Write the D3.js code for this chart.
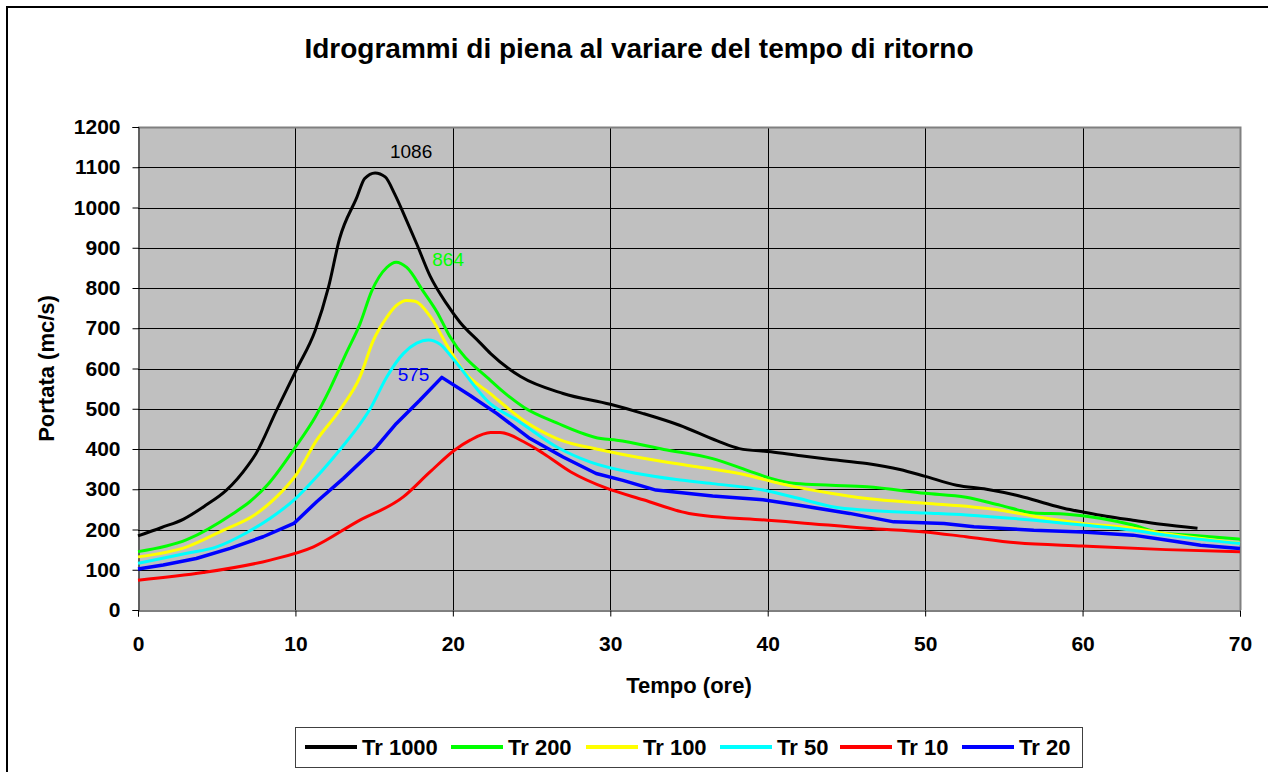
<!DOCTYPE html>
<html>
  <head>
    <title>Idrogrammi di piena al variare del tempo di ritorno</title>
    <meta charset="utf-8">
    <script src="https://cdn.jsdelivr.net/npm/d3@7"></script>
    <style>
      body { margin: 0; background: #fff; }
      text { font-family: "Liberation Sans", Arial, sans-serif; }
    </style>
  </head>
<body>
  <script type="text/javascript">
    /*
      Data (tempo in ore, portata in mc/s)
    */
    var tr1000T = [0,1.5,2.9,4.3,5.6,7.0,7.5,8.8,10.1,11.25,12.1,12.8,13.9,14.4,15.06,15.7,16.3,17.07,17.7,18.55,19.6,20.45,21.7,22.4,24.3,27,30,32.1,34.4,36.8,38.2,40.2,42.1,44,46.3,48.4,50,52,53.9,55.8,57.3,58.8,60.1,61.5,63.2,65,67.3];
    var tr1000Q = [184,205,226,260,297,360,389,496,600,694,802,922,1025,1072,1086,1076,1034,967,910,830,761,715,665,637,580,538,511,488,459,420,401,393,383,374,364,349,332,310,300,285,269,253,243,233,223,213,203];

    var tr200T = [0,3.1,6.05,7.1,8.2,10,11.25,12.2,13.25,14.1,14.85,15.8,16.4,17.07,18.1,19,19.8,22.4,24.5,26.6,29.4,30.4,33.4,36.5,38.7,40.2,41.8,44,46.3,50,52.6,54.8,56.9,59,61.1,63.2,64.9,67.5,70];
    var tr200Q = [145,175,240,269,310,405,479,550,640,711,793,851,864,851,793,740,680,570,504,465,426,422,399,376,347,327,314,310,306,290,280,260,241,238,228,211,192,184,176];

    var tr100T = [0,3.1,5.4,7.4,8.8,10.1,11.35,12.8,14.1,14.95,15.8,16.4,17.07,17.6,18.55,19.7,20.65,22.4,24.5,26.6,29.5,32.1,35.5,38.7,40.8,44,46.3,50,53,54.8,56.9,60,63.2,64.9,70];
    var tr100Q = [132,157,198,236,281,339,422,496,579,670,727,756,769,767,730,653,595,537,471,426,397,377,356,335,314,290,277,265,256,248,233,215,203,192,166];

    var tr50T = [0,3.1,5,6.9,8.4,9.9,11.35,12.8,13.9,14.75,15.8,16.85,17.7,18.45,19.2,20,22.4,24.1,26.6,28.7,31.7,34.2,36.5,39.7,42,44.2,46.3,50,52.6,56.9,60,63.2,65.3,70];
    var tr50Q = [116,141,157,192,228,273,331,397,451,500,579,637,663,671,660,625,512,471,405,368,339,324,314,298,277,256,248,241,236,223,211,198,186,165];

    var tr10T = [0,4.15,8.4,11.15,13.9,16.85,18.55,20.1,21.1,22.4,23,24.5,25.75,27.5,29.8,32.1,35,40,42,46.3,50,52.6,55.8,60,65.3,70];
    var tr10Q = [74,93,124,157,219,281,343,397,422,441,441,418,389,343,302,274,240,223,217,203,194,182,167,159,150,145];

    var tr20T = [0,1.6,3.7,5.85,7.95,9.9,11.35,13.05,15.15,16.4,17.9,19.3,21.1,22.8,24.9,27,29.1,30.8,32.9,36.5,39.7,42,45.2,48,51.2,53.1,56.9,60,63.2,65.3,67.5,70];
    var tr20Q = [102,112,128,153,182,215,269,327,405,463,521,578,533,488,426,380,339,322,298,283,274,260,240,219,215,207,198,194,186,174,161,153];

    var seriesNames = ["Tr 1000", "Tr 200", "Tr 100", "Tr 50", "Tr 10", "Tr 20"];
    var seriesColors = ["#000000", "#00ff00", "#ffff00", "#00ffff", "#ff0000", "#0000ff"];
    var xTicks = [0, 10, 20, 30, 40, 50, 60, 70];
    var yTicks = [0, 100, 200, 300, 400, 500, 600, 700, 800, 900, 1000, 1100, 1200];

    // peak labels, anchored in data units
    var peakLabels = ["1086", "864", "575"];
    var peakLabelT = [17.35, 19.7, 17.5];
    var peakLabelQ = [1123, 855, 570];
    var peakLabelColors = ["#000000", "#00ff00", "#0000ff"];

    var series = [
      {t: tr1000T, q: tr1000Q},
      {t: tr200T, q: tr200Q},
      {t: tr100T, q: tr100Q},
      {t: tr50T, q: tr50Q},
      {t: tr10T, q: tr10Q},
      {t: tr20T, q: tr20Q}
    ].map(function(s, i) {
      return {
        name: seriesNames[i],
        color: seriesColors[i],
        values: s.t.map(function(t, j) { return {t: t, q: s.q[j]}; })
      };
    });

    /*
      Layout
    */
    var W = 1268, H = 772;
    var plot = {left: 138, right: 1240, top: 127, bottom: 610};

    var svg = d3.select("body").append("svg")
        .attr("width", W)
        .attr("height", H);

    // outer chart frame (only left and top edges fall inside the window)
    svg.append("rect")
        .attr("x", 7).attr("y", 7)
        .attr("width", W + 20).attr("height", H + 20)
        .attr("fill", "#fff")
        .attr("stroke", "#000")
        .attr("stroke-width", 2);

    var x = d3.scaleLinear().domain([0, 70]).range([plot.left, plot.right]);
    var y = d3.scaleLinear().domain([0, 1200]).range([plot.bottom, plot.top]);

    // plot background
    svg.append("rect")
        .attr("x", plot.left).attr("y", plot.top)
        .attr("width", plot.right - plot.left)
        .attr("height", plot.bottom - plot.top)
        .attr("fill", "#c0c0c0");

    // grid
    svg.append("g").selectAll("line.h")
        .data(yTicks.slice(1))
      .enter().append("line")
        .attr("x1", plot.left).attr("x2", plot.right)
        .attr("y1", function(d) { return Math.round(y(d)) + 0.5; })
        .attr("y2", function(d) { return Math.round(y(d)) + 0.5; })
        .attr("stroke", "#000").attr("stroke-width", 1);

    svg.append("g").selectAll("line.v")
        .data(xTicks.slice(1, -1))
      .enter().append("line")
        .attr("y1", plot.top).attr("y2", plot.bottom)
        .attr("x1", function(d) { return Math.round(x(d)) + 0.5; })
        .attr("x2", function(d) { return Math.round(x(d)) + 0.5; })
        .attr("stroke", "#000").attr("stroke-width", 1);

    // gray top / right border
    svg.append("path")
        .attr("d", "M" + plot.left + "," + (plot.top + 0.5) + "H" + (plot.right + 0.5) + "V" + plot.bottom)
        .attr("fill", "none")
        .attr("stroke", "#808080")
        .attr("stroke-width", 2);

    // axes
    var yAxis = d3.axisLeft(y).tickValues(yTicks).tickFormat(d3.format("d"))
        .tickSize(6).tickPadding(12);
    var xAxis = d3.axisBottom(x).tickValues(xTicks).tickFormat(d3.format("d"))
        .tickSize(6).tickPadding(20);

    var gy = svg.append("g")
        .attr("transform", "translate(" + (plot.left + 0.5) + ",0)")
        .call(yAxis);
    var gx = svg.append("g")
        .attr("transform", "translate(0," + (plot.bottom + 0.5) + ")")
        .call(xAxis);

    [gx, gy].forEach(function(g) {
      g.select(".domain").attr("stroke", "#000");
      g.selectAll(".tick line").attr("stroke", "#000");
      g.selectAll(".tick text")
        .attr("font-family", '"Liberation Sans", Arial, sans-serif')
        .attr("font-size", 21)
        .attr("font-weight", "bold")
        .attr("fill", "#000");
    });

    // series lines
    var line = d3.line()
        .x(function(d) { return x(d.t); })
        .y(function(d) { return y(d.q); });

    svg.append("g").selectAll("path.series")
        .data(series)
      .enter().append("path")
        .attr("class", "series")
        .attr("d", function(d, i) {
          return i === 5 ? line.curve(d3.curveLinear)(d.values) : line.curve(d3.curveMonotoneX)(d.values);
        })
        .attr("fill", "none")
        .attr("stroke", function(d) { return d.color; })
        .attr("stroke-width", function(d, i) { return i === 5 ? 3.5 : 3; })
        .attr("stroke-linejoin", "round");

    // peak value labels
    svg.append("g").selectAll("text")
        .data(peakLabels)
      .enter().append("text")
        .attr("x", function(d, i) { return x(peakLabelT[i]); })
        .attr("y", function(d, i) { return y(peakLabelQ[i]); })
        .attr("text-anchor", "middle")
        .attr("font-size", 19)
        .attr("fill", function(d, i) { return peakLabelColors[i]; })
        .text(function(d) { return d; });

    /*
      Titles
    */
    svg.append("text")
        .attr("x", 639).attr("y", 58)
        .attr("text-anchor", "middle")
        .attr("font-size", 28)
        .attr("font-weight", "bold")
        .text("Idrogrammi di piena al variare del tempo di ritorno");

    svg.append("text")
        .attr("x", (plot.left + plot.right) / 2).attr("y", 693)
        .attr("text-anchor", "middle")
        .attr("font-size", 22)
        .attr("font-weight", "bold")
        .text("Tempo (ore)");

    svg.append("text")
        .attr("transform", "translate(54," + ((plot.top + plot.bottom) / 2) + ") rotate(-90)")
        .attr("text-anchor", "middle")
        .attr("font-size", 22)
        .attr("font-weight", "bold")
        .text("Portata (mc/s)");

    /*
      Legend
    */
    var legendX = [305, 451, 586, 720, 840, 962];
    var legend = svg.append("g");
    legend.append("rect")
        .attr("x", 295.5).attr("y", 727.5)
        .attr("width", 787).attr("height", 40)
        .attr("fill", "#fff")
        .attr("stroke", "#404040")
        .attr("stroke-width", 1);

    var items = legend.selectAll("g.item")
        .data(series)
      .enter().append("g")
        .attr("transform", function(d, i) { return "translate(" + legendX[i] + ",747)"; });
    items.append("line")
        .attr("x1", 0).attr("x2", 52)
        .attr("stroke", function(d) { return d.color; })
        .attr("stroke-width", 4);
    items.append("text")
        .attr("x", 57).attr("dy", "0.36em")
        .attr("font-size", 22)
        .attr("font-weight", "bold")
        .text(function(d) { return d.name; });
  </script>
</body>
</html>
